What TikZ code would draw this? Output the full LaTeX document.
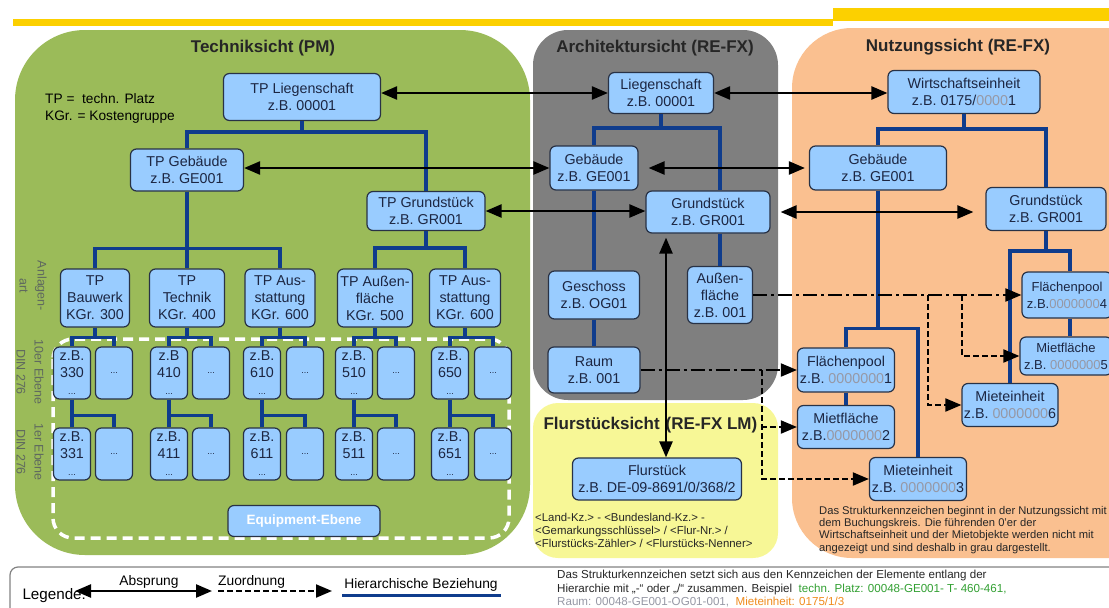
\documentclass[tikz,border=0pt]{standalone}
\usepackage{fontspec}
\setmainfont{Liberation Sans}
\usetikzlibrary{arrows.meta}

\definecolor{techgreen}{RGB}{155,187,89}
\definecolor{archgray}{RGB}{127,127,127}
\definecolor{fluryellow}{RGB}{247,247,150}
\definecolor{nutzorange}{RGB}{250,192,144}
\definecolor{topyellow}{RGB}{252,208,0}
\definecolor{boxfill}{RGB}{153,204,255}
\definecolor{boxline}{RGB}{40,50,70}
\definecolor{boxtext}{RGB}{28,38,66}
\definecolor{hierblue}{RGB}{15,60,140}
\definecolor{zerogray}{RGB}{150,152,165}
\definecolor{sidegray}{RGB}{95,105,95}
\definecolor{legendgray}{RGB}{130,130,130}
\definecolor{platzgreen}{RGB}{50,160,50}
\definecolor{meorange}{RGB}{240,140,30}

\begin{document}
\begin{tikzpicture}[
    x=1pt, y=-1pt,
    elem/.style={draw=boxline, fill=boxfill, line width=1.2pt, rounded corners=6pt,
      align=center, inner sep=0pt, text=boxtext, font=\fontsize{14.3}{17}\selectfont},
    levelbox/.style={elem, minimum width=37pt, minimum height=52pt},
    hier/.style={draw=hierblue, line width=3.5pt},
    jump/.style={{Triangle[length=16pt,width=13pt]}-{Triangle[length=16pt,width=13pt]}, line width=2.4pt},
    assign/.style={-{Triangle[length=16pt,width=13pt]}, line width=2pt, dash pattern=on 6pt off 3pt},
    assigndot/.style={assign, dash pattern=on 14pt off 4pt on 3pt off 4pt},
    viewtitle/.style={font=\fontsize{17}{20}\bfseries\selectfont, text=black!85},
    sidelabel/.style={rotate=-90, align=center, text=sidegray, font=\fontsize{12.5}{18}\selectfont},
    legfont/.style={font=\fontsize{13.8}{15}\selectfont, inner sep=1pt}
  ]
    \useasboundingbox (0,0) rectangle (1109,608);
    \clip (0,0) rectangle (1109,608);

    % Panels
    \fill[topyellow] (13,19) rectangle (833,26);
    \fill[topyellow] (833,8) rectangle (1109,21);
    \fill[techgreen, rounded corners=70pt] (15,30) rectangle (530,555);
    \fill[archgray, rounded corners=35pt] (533,30) rectangle (778,400);
    \fill[fluryellow, rounded corners=25pt] (533,403) rectangle (778,558);
    \fill[nutzorange, rounded corners=60pt] (792,28) rectangle (1170,558);

    \node[viewtitle] (tpTitle) at (263,48) {Techniksicht (PM)};
    \node[viewtitle] (arTitle) at (655,48) {Architektursicht (RE-FX)};
    \node[viewtitle] (nuTitle) at (958,47) {Nutzungssicht (RE-FX)};

    % Techniksicht
    \draw[white, line width=3.5pt, dash pattern=on 10pt off 6pt, rounded corners=20pt]
      (53,339) rectangle (509,538);

    \node[anchor=north west, align=left, inner sep=0pt, font=\fontsize{13.7}{17}\selectfont]
      (tpNote) at (45,93) {TP = \ techn. Platz\\KGr. = Kostengruppe};

    \node[elem, minimum width=157pt, minimum height=47pt] (tpLieg) at (302,97) {TP Liegenschaft\\z.B. 00001};
    \node[elem, minimum width=113pt, minimum height=42pt] (tpGeb) at (187,170) {TP Gebäude\\z.B. GE001};
    \node[elem, minimum width=118pt, minimum height=39pt] (tpGrund) at (426,211) {TP Grundstück\\z.B. GR001};

    \foreach \n/\x/\w/\txt in {1/95/69/{TP\\Bauwerk\\KGr. 300}, 2/187/75/{TP\\Technik\\KGr. 400},
        3/280/70/{TP Aus-\\stattung\\KGr. 600}, 4/375/75/{TP Außen-\\fläche\\KGr. 500},
        5/465/71/{TP Aus-\\stattung\\KGr. 600}}
      \node[elem, minimum width=\w pt, minimum height=58pt] (tpA\n) at (\x,298) {\txt};

    \foreach \n/\xa/\xb/\zb/\za/\ea in {1/72/114/z.B./330/331, 2/169/211/z.B/410/411,
        3/262/305/z.B./610/611, 4/354/396/z.B./510/511, 5/450/493/z.B./650/651} {
      \node[levelbox] (tenA\n) at (\xa,373) {\zb\\\za\\{\fontsize{9}{9}\selectfont ...}};
      \node[levelbox] (tenB\n) at (\xb,373) {\fontsize{9}{9}\selectfont ...};
      \node[levelbox] (oneA\n) at (\xa,454) {z.B.\\\ea\\{\fontsize{9}{9}\selectfont ...}};
      \node[levelbox] (oneB\n) at (\xb,454) {\fontsize{9}{9}\selectfont ...};
    }

    \node[elem, minimum width=152pt, minimum height=31pt, text=white,
      font=\fontsize{13.5}{15}\bfseries\selectfont] (equip) at (304,521) {Equipment-Ebene};

    \node[sidelabel] (sideA) at (33,286) {Anlagen-\\art};
    \node[sidelabel] (sideB) at (30,372) {10er Ebene\\DIN 276};
    \node[sidelabel] (sideC) at (30,452) {1er Ebene\\DIN 276};

    \draw[hier] (tpLieg.south) -- ++(0,11) -| (tpGeb.north);
    \draw[hier] (tpLieg.south) -- ++(0,11) -| (tpGrund.north);
    \foreach \n in {1,2,3}
      \draw[hier] (tpGeb.south) -- ++(0,57) -| (tpA\n.north);
    \foreach \n in {4,5}
      \draw[hier] (tpGrund.south) -- ++(0,17) -| (tpA\n.north);
    \foreach \n in {1,...,5} {
      \draw[hier] (tpA\n.south) -- ++(0,10) -| (tenA\n.north);
      \draw[hier] (tpA\n.south) -- ++(0,10) -| (tenB\n.north);
      \draw[hier] (tenA\n.south) -- (oneA\n.north);
      \draw[hier] (tenA\n.south) -- ++(0,16) -| (oneB\n.north);
    }

    % Architektursicht
    \node[elem, minimum width=105pt, minimum height=41pt] (arLieg) at (661,93) {Liegenschaft\\z.B. 00001};
    \node[elem, minimum width=88pt, minimum height=44pt] (arGeb) at (594,168) {Gebäude\\z.B. GE001};
    \node[elem, minimum width=124pt, minimum height=42pt] (arGrund) at (708,212) {Grundstück\\z.B. GR001};
    \node[elem, minimum width=91pt, minimum height=48pt] (arGesch) at (594,295) {Geschoss\\z.B. OG01};
    \node[elem, minimum width=92pt, minimum height=46pt] (arRaum) at (594,370) {Raum\\z.B. 001};
    \node[elem, minimum width=65pt, minimum height=57pt] (arAussen) at (720,295) {Außen-\\fläche\\z.B. 001};

    \draw[hier] (arLieg.south) -- ++(0,14) -| (arGeb.north);
    \draw[hier] (arLieg.south) -- ++(0,14) -| (arAussen.north |- arGrund.north);
    \draw[hier] (arAussen.north |- arGrund.south) -- (arAussen.north);
    \draw[hier] (arGeb.south) -- (arGesch.north);
    \draw[hier] (arGesch.south) -- (arRaum.north);

    % Flurstuecksicht
    \node[viewtitle, anchor=west] (flurTitle) at (540,425) {Flurstücksicht\hspace{6pt}(RE-FX LM)};
    \node[elem, minimum width=169pt, minimum height=42pt] (flur) at (657,479) {Flurstück\\z.B. DE-09-8691/0/368/2};
    \node[anchor=north west, align=left, inner sep=0pt, text=black!85,
      font=\fontsize{11.4}{13}\selectfont] (flurNote) at (535,513)
      {<Land-Kz.> - <Bundesland-Kz.> -\\<Gemarkungsschlüssel> / <Flur-Nr.> /\\<Flurstücks-Zähler> / <Flurstücks-Nenner>};

    % Nutzungssicht
    \node[elem, minimum width=152pt, minimum height=43pt] (nuWE) at (964,92) {Wirtschaftseinheit\\z.B. 0175/\textcolor{zerogray}{0000}1};
    \node[elem, minimum width=137pt, minimum height=44pt] (nuGeb) at (878,168) {Gebäude\\z.B. GE001};
    \node[elem, minimum width=120pt, minimum height=43pt] (nuGrund) at (1046,209) {Grundstück\\z.B. GR001};
    \node[elem, minimum width=97pt, minimum height=44pt] (nuFP1) at (846,370) {Flächenpool\\z.B. \textcolor{zerogray}{0000000}1};
    \node[elem, minimum width=97pt, minimum height=43pt] (nuMF2) at (846,427) {Mietfläche\\z.B.\textcolor{zerogray}{0000000}2};
    \node[elem, minimum width=97pt, minimum height=43pt] (nuME3) at (918,479) {Mieteinheit\\z.B. \textcolor{zerogray}{0000000}3};
    \node[elem, minimum width=90pt, minimum height=46pt, font=\fontsize{13}{17}\selectfont] (nuFP4) at (1067,295) {Flächenpool\\z.B.\textcolor{zerogray}{0000000}4};
    \node[elem, minimum width=92pt, minimum height=38pt, font=\fontsize{13}{17}\selectfont] (nuMF5) at (1066,356) {Mietfläche\\z.B. \textcolor{zerogray}{0000000}5};
    \node[elem, minimum width=96pt, minimum height=43pt] (nuME6) at (1010,405) {Mieteinheit\\z.B. \textcolor{zerogray}{0000000}6};
    \node[anchor=north west, align=left, inner sep=0pt, text=black!85,
      font=\fontsize{11.2}{12.3}\selectfont] (nuNote) at (819,506)
      {Das Strukturkennzeichen beginnt in der Nutzungssicht mit\\dem Buchungskreis. Die führenden 0'er der\\Wirtschaftseinheit und der Mietobjekte werden nicht mit\\angezeigt und sind deshalb in grau dargestellt.};

    \draw[hier] (nuWE.south) -- ++(0,15) -| (nuGeb.north);
    \draw[hier] (nuWE.south) -- ++(0,15) -| (nuGrund.north);
    \draw[hier] (nuGeb.south) -- ++(0,138) -| (nuFP1.north);
    \draw[hier] (nuGeb.south) -- ++(0,138) -| (nuME3.north);
    \draw[hier] (nuFP1.south) -- (nuMF2.north);
    \draw[hier] (nuGrund.south) -- ++(0,20) -| (nuME6.north);
    \draw[hier] (nuGrund.south) -- ++(0,20) -| ([xshift=3pt]nuFP4.north);
    \draw[hier] ([xshift=3pt]nuFP4.south) -- ([xshift=3pt]nuFP4.south |- nuMF5.north);

    % Absprung
    \draw[jump] (tpLieg.east |- arLieg.west) -- (arLieg.west);
    \draw[jump] (tpGeb.east |- arGeb.west) -- (arGeb.west);
    \draw[jump] (tpGrund.east) -- (arGrund.west |- tpGrund.east);
    \draw[jump] (arLieg.east) -- (nuWE.west |- arLieg.east);
    \draw[jump, shorten <=10pt, shorten >=4pt] (arGeb.east) -- (nuGeb.west |- arGeb.east);
    \draw[jump, shorten <=10pt, shorten >=12pt] (arGrund.east) -- (nuGrund.west |- arGrund.east);
    \draw[jump, shorten <=4pt] ([xshift=-42pt]arGrund.south) -- ([xshift=-42pt]arGrund.south |- flur.north);

    % Zuordnung
    \coordinate (splitA) at (928,295);
    \coordinate (splitB) at (962,295);
    \coordinate (splitC) at (762,370);
    \draw[assigndot] (arAussen.east) -- (nuFP4.west);
    \draw[assign] (splitA) |- (nuME6.west);
    \draw[assign] (splitB) |- (nuMF5.west);
    \draw[assigndot] (arRaum.east) -- (nuFP1.west);
    \draw[assign] (splitC) |- (nuME3.west);
    \draw[assign] (flurTitle.east |- nuMF2.west) -- (nuMF2.west);

    % Legende
    \draw[legendgray, line width=1.2pt, fill=white, rounded corners=8pt] (10,567) rectangle (1150,650);
    \node[anchor=west, font=\fontsize{15.2}{16}\selectfont] (legTitle) at (19,596) {Legende:};
    \coordinate (legA1) at (75,591);
    \coordinate (legA2) at (212,591);
    \coordinate (legB1) at (218,591);
    \coordinate (legB2) at (332,591);
    \coordinate (legC1) at (342,595);
    \coordinate (legC2) at (501,595);
    \draw[jump] (legA1) -- (legA2);
    \draw[assign] (legB1) -- (legB2);
    \draw[hier, line width=3pt] (legC1) -- (legC2);
    \node[legfont, anchor=south] (legJump) at (149,590) {Absprung};
    \node[legfont, anchor=south west] (legAssign) at (217,590) {Zuordnung};
    \node[legfont, anchor=south] (legHier) at (421,593) {Hierarchische Beziehung};
    \node[anchor=north west, align=left, inner sep=0pt, text=black!85,
      font=\fontsize{11.6}{13.6}\selectfont] (legNote) at (557,570)
      {Das Strukturkennzeichen setzt sich aus den Kennzeichen der Elemente entlang der\\
       Hierarchie mit „-“ oder „/“ zusammen. Beispiel \ \textcolor{platzgreen}{techn. Platz: 00048-GE001- T- 460-461,}\\
       \textcolor{zerogray}{Raum: 00048-GE001-OG01-001,} \ \textcolor{meorange}{Mieteinheit: 0175/1/3}};

  \end{tikzpicture}
\end{document}
